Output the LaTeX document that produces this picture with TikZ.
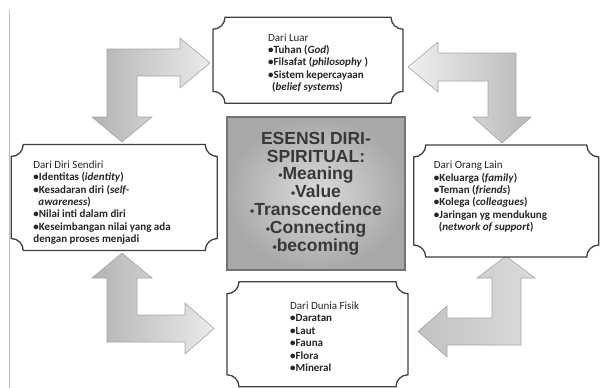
\documentclass[tikz,border=0pt]{standalone}
\usepackage{fontspec}
\setmainfont{Carlito}
\newfontfamily\corefont{Liberation Sans}
\usepackage{xcolor}
\usepackage{tikz}
\usetikzlibrary{positioning}

\newcommand{\plaque}[1]{%
  \draw[plaqueline]
    ([xshift=12pt]#1.north west) -- ([xshift=-12pt]#1.north east)
    .. controls ([xshift=-12pt,yshift=-6.6pt]#1.north east) and ([xshift=-6.6pt,yshift=-12pt]#1.north east) .. ([yshift=-12pt]#1.north east)
    -- ([yshift=12pt]#1.south east)
    .. controls ([xshift=-6.6pt,yshift=12pt]#1.south east) and ([xshift=-12pt,yshift=6.6pt]#1.south east) .. ([xshift=-12pt]#1.south east)
    -- ([xshift=12pt]#1.south west)
    .. controls ([xshift=12pt,yshift=6.6pt]#1.south west) and ([xshift=6.6pt,yshift=12pt]#1.south west) .. ([yshift=12pt]#1.south west)
    -- ([yshift=-12pt]#1.north west)
    .. controls ([xshift=6.6pt,yshift=-12pt]#1.north west) and ([xshift=12pt,yshift=-6.6pt]#1.north west) .. cycle;}
\newcommand{\dotb}{{\fontsize{12}{12}\selectfont•}}

\begin{document}
\begin{tikzpicture}[
    x=1pt, y=-1pt,
    font=\fontsize{11}{12.4}\selectfont,
    box/.style={inner sep=0pt, outer sep=0pt},
    boxtext/.style={anchor=north west, align=left, inner sep=0pt, text=black!85},
    plaqueline/.style={draw=black!75, line width=1.3pt, fill=white},
    core/.style={draw=black!55, line width=1.5pt, inner color=black!14, outer color=black!34,
        minimum width=178pt, minimum height=153pt, align=center, text=black!78,
        font=\corefont\bfseries\fontsize{17.5}{17.8}\selectfont},
    bent/.style={draw=black!35, line width=0.6pt}
]
\useasboundingbox (0,0) rectangle (600,388);
\draw[black!25, line width=1pt] (9,10) -- (9,388);

\node[core] (core) at (316,193.5) {ESENSI DIRI-\\SPIRITUAL:\\\dotb Meaning\\\dotb Value\\\dotb Transcendence\\\dotb Connecting\\\dotb becoming};
\node[box, minimum width=190pt, minimum height=86pt, above=13pt of core, xshift=-8pt] (luar) {};
\node[box, minimum width=206pt, minimum height=106pt, left=9pt of core, yshift=-4pt] (diri) {};
\node[box, minimum width=185pt, minimum height=112pt, right=8pt of core, yshift=-7.5pt] (lain) {};
\node[box, minimum width=181pt, minimum height=105pt, below=11pt of core, xshift=1.5pt] (fisik) {};

\shade[bent, left color=black!30, right color=black!8]
    (107,49) -- (180,49) -- (180,38) -- (210,63) -- (180,88) -- (180,76) -- (137,76)
    -- (137,117) -- (152,117) -- (122,142) -- (92,117) -- (107,117) -- cycle;
\shade[bent, left color=black!6, right color=black!28]
    (516,53) -- (516,117) -- (531,117) -- (502,143) -- (473,117) -- (488,117) -- (488,81)
    -- (438,81) -- (438,92) -- (408,67) -- (438,42) -- (438,53) -- cycle;
\shade[bent, left color=black!30, right color=black!8]
    (122,253) -- (152,278) -- (137,278) -- (137,315) -- (185,315) -- (185,303) -- (214,328.5)
    -- (185,354) -- (185,342) -- (107,342) -- (107,278) -- (92,278) -- cycle;
\shade[bent, left color=black!24, right color=black!14]
    (506,256) -- (535,278) -- (521,278) -- (521,345) -- (447,345) -- (447,357) -- (418,331.5)
    -- (447,306) -- (447,318) -- (492,318) -- (492,278) -- (477,278) -- cycle;

\plaque{luar}
\plaque{diri}
\plaque{lain}
\plaque{fisik}

\node[boxtext] (luar-txt) at ([xshift=55pt,yshift=-16pt]luar.north west)
    {Dari Luar\\\textbf{•Tuhan (\textit{God})}\\\textbf{•Filsafat (\textit{philosophy} )}\\
     \textbf{•Sistem kepercayaan}\\\hspace*{4pt}\textbf{(\textit{belief systems})}};
\node[boxtext] (diri-txt) at ([xshift=22pt,yshift=-16pt]diri.north west)
    {Dari Diri Sendiri\\\textbf{•Identitas (\textit{identity})}\\\textbf{•Kesadaran diri (\textit{self-}}\\
     \hspace*{5pt}\textbf{\textit{awareness})}\\\textbf{•Nilai inti dalam diri}\\
     \textbf{•Keseimbangan nilai yang ada}\\\textbf{dengan proses menjadi}};
\node[boxtext] (lain-txt) at ([xshift=20pt,yshift=-16pt]lain.north west)
    {Dari Orang Lain\\\textbf{•Keluarga (\textit{family})}\\\textbf{•Teman (\textit{friends})}\\
     \textbf{•Kolega (\textit{colleagues})}\\\textbf{•Jaringan yg mendukung}\\
     \hspace*{5pt}\textbf{(\textit{network of support})}};
\node[boxtext] (fisik-txt) at ([xshift=63pt,yshift=-20pt]fisik.north west)
    {Dari Dunia Fisik\\\textbf{•Daratan}\\\textbf{•Laut}\\\textbf{•Fauna}\\\textbf{•Flora}\\\textbf{•Mineral}};
\end{tikzpicture}
\end{document}
